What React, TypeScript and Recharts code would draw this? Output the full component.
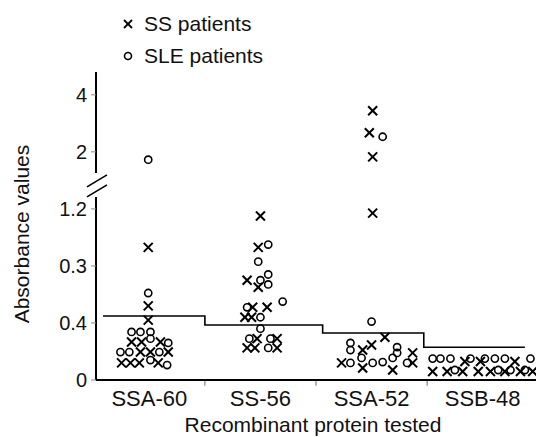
import React from 'react';
import { ComposedChart, Scatter, Line, XAxis, YAxis, ReferenceLine, Label } from 'recharts';

const categories = ['SSA-60', 'SS-56', 'SSA-52', 'SSB-48'];
const yTickLabels = ['0', '0.4', '0.3', '1.2', '2', '4'];
// absorbance value represented by each (evenly spaced) tick; axis broken between 1.2 and 2
const yTickValues = [0, 0.4, 0.8, 1.2, 2, 4];

// [offset within category, absorbance]
const ssSSA60: [number, number][] = [
  [-0.01, 0.93], [-0.01, 0.52], [-0.01, 0.42],
  [-0.16, 0.267], [-0.07, 0.267], [0.1, 0.267],
  [-0.08, 0.196], [0.01, 0.196], [0.17, 0.196],
  [-0.25, 0.12], [-0.17, 0.12], [-0.09, 0.12], [0.08, 0.12],
];
const sleSSA60: [number, number][] = [
  [-0.01, 1.89], [-0.01, 0.61],
  [-0.16, 0.337], [-0.08, 0.337], [0.01, 0.337],
  [0.01, 0.29], [0.17, 0.26],
  [-0.26, 0.196], [-0.18, 0.196], [0.09, 0.196],
  [0.01, 0.14], [0.16, 0.105],
];
const ssSS56: [number, number][] = [
  [0, 1.15], [-0.02, 0.93], [-0.12, 0.7], [-0.02, 0.65],
  [-0.07, 0.51], [0.06, 0.51], [-0.14, 0.44], [-0.08, 0.44],
  [-0.03, 0.29], [0.15, 0.29], [-0.12, 0.225], [-0.05, 0.225], [0.15, 0.225],
];
const sleSS56: [number, number][] = [
  [0.07, 0.95], [-0.02, 0.83], [0, 0.7], [0.07, 0.74], [0.07, 0.67],
  [-0.12, 0.51], [0.2, 0.55], [0, 0.44], [0, 0.36],
  [-0.1, 0.29], [0.09, 0.29], [0.07, 0.225],
];
const ssSSA52: [number, number][] = [
  [0.01, 3.44], [-0.02, 2.67], [0.01, 1.93], [0.01, 1.17],
  [0.12, 0.3], [0, 0.245], [-0.08, 0.21], [0.37, 0.19],
  [-0.27, 0.12], [-0.08, 0.084], [0.19, 0.07], [0.37, 0.12],
];
const sleSSA52: [number, number][] = [
  [0.1, 2.53], [0, 0.41], [-0.19, 0.26], [-0.19, 0.21],
  [0.23, 0.23], [0.23, 0.19], [-0.19, 0.12], [-0.09, 0.155],
  [0.01, 0.12], [0.1, 0.126], [0.19, 0.155], [0.32, 0.12],
];
const ssSSB48: [number, number][] = [
  [-0.45, 0.06], [-0.32, 0.06], [-0.18, 0.06], [-0.04, 0.06],
  [0.07, 0.06], [0.2, 0.06], [0.34, 0.06], [0.45, 0.06],
  [-0.16, 0.13], [-0.02, 0.13], [0.29, 0.13],
];
const sleSSB48: [number, number][] = [
  [-0.45, 0.15], [-0.38, 0.15], [-0.29, 0.15], [-0.11, 0.15],
  [0.02, 0.15], [0.11, 0.15], [0.2, 0.15], [0.43, 0.15],
  [-0.25, 0.07], [0.14, 0.07], [0.25, 0.07], [0.38, 0.07],
];

const ssGroups = [ssSSA60, ssSS56, ssSSA52, ssSSB48];
const sleGroups = [sleSSA60, sleSS56, sleSSA52, sleSSB48];

// mean level per category and step boundaries
const meanLevels = [0.449, 0.386, 0.33, 0.23];
const meanBounds = [0.083, 1.0, 2.06, 2.97, 3.88];

// map absorbance onto the evenly spaced (broken) axis
const toAxis = (v: number) => {
  for (let i = 1; i < yTickValues.length; i++) {
    if (v <= yTickValues[i] || i === yTickValues.length - 1) {
      const a = yTickValues[i - 1];
      const b = yTickValues[i];
      return i - 1 + (v - a) / (b - a);
    }
  }
  return 0;
};

const build = (groups: [number, number][][]) =>
  groups.flatMap((g, i) => g.map(([o, v]) => ({ x: i + 0.5 + o, y: toAxis(v) })));

const ssData = build(ssGroups);
const sleData = build(sleGroups);
const meanData = meanBounds.map((x, i) => ({ x, y: toAxis(meanLevels[Math.min(i, meanLevels.length - 1)]) }));

const FONT = 'Liberation Sans, Arial, Helvetica, sans-serif';

const XMark = (props: any) => {
  const { cx, cy } = props;
  const s = 4.5;
  return (
    <g>
      <line x1={cx - s} y1={cy - s} x2={cx + s} y2={cy + s} stroke="#000" strokeWidth={2} />
      <line x1={cx - s} y1={cy + s} x2={cx + s} y2={cy - s} stroke="#000" strokeWidth={2} />
    </g>
  );
};
const OMark = (props: any) => {
  const { cx, cy } = props;
  return <circle cx={cx} cy={cy} r={3.6} fill="none" stroke="#000" strokeWidth={1.6} />;
};

export default function App() {
  return (
    <div style={{ position: 'absolute', left: 0, top: 0, width: 536, height: 437, background: '#fff', fontFamily: FONT }}>
      <ComposedChart width={536} height={437} margin={{ top: 72, right: 0, bottom: 0, left: 0 }}>
        <XAxis
          dataKey="x"
          type="number"
          domain={[0.02, 3.98]}
          allowDataOverflow
          ticks={[0.5, 1.5, 2.5, 3.5]}
          tickFormatter={(v: number) => categories[Math.floor(v)]}
          tickLine={false}
          tickSize={6}
          tickMargin={4}
          height={57}
          axisLine={{ stroke: '#000', strokeWidth: 2 }}
          tick={{ fill: '#111', fontSize: 22, fontFamily: FONT }}
        >
          <Label value="Recombinant protein tested" position="insideBottom" offset={5} dx={-3} fill="#111" fontSize={21} fontFamily={FONT} />
        </XAxis>
        <YAxis
          type="number"
          domain={[0, 5.4]}
          allowDataOverflow
          ticks={[0, 1, 2, 3, 4, 5]}
          tickFormatter={(v: number) => yTickLabels[v]}
          axisLine={false}
          tickLine={{ stroke: '#888' }}
          tickSize={5}
          tickMargin={4}
          width={96}
          tick={{ fill: '#111', fontSize: 20, fontFamily: FONT }}
        />
        <ReferenceLine segment={[{ x: 0.02, y: 0 }, { x: 0.02, y: 3.21 }]} stroke="#000" strokeWidth={2} ifOverflow="visible" />
        <ReferenceLine segment={[{ x: 0.02, y: 3.63 }, { x: 0.02, y: 5.4 }]} stroke="#000" strokeWidth={2} ifOverflow="visible" />
        <ReferenceLine segment={[{ x: -0.061, y: 3.386 }, { x: 0.119, y: 3.596 }]} stroke="#000" strokeWidth={1.6} ifOverflow="visible" />
        <ReferenceLine segment={[{ x: -0.061, y: 3.21 }, { x: 0.119, y: 3.42 }]} stroke="#000" strokeWidth={1.6} ifOverflow="visible" />
        {[1, 2, 3].map((t) => (
          <ReferenceLine key={t} segment={[{ x: t, y: 0 }, { x: t, y: -0.1 }]} stroke="#666" strokeWidth={1} ifOverflow="visible" />
        ))}
        <Line data={meanData} dataKey="y" type="stepAfter" stroke="#000" strokeWidth={1.6} dot={false} activeDot={false} isAnimationActive={false} />
        <Scatter data={ssData} dataKey="y" shape={XMark} isAnimationActive={false} />
        <Scatter data={sleData} dataKey="y" shape={OMark} isAnimationActive={false} />
      </ComposedChart>
      <svg width={536} height={437} style={{ position: 'absolute', left: 0, top: 0, pointerEvents: 'none' }}>
        <g>
          <line x1={124} y1={20} x2={132} y2={28} stroke="#000" strokeWidth={1.8} />
          <line x1={124} y1={28} x2={132} y2={20} stroke="#000" strokeWidth={1.8} />
          <text x={144} y={31} fontSize={21} fontFamily={FONT} fill="#111">SS patients</text>
          <circle cx={128} cy={56} r={3.5} fill="none" stroke="#000" strokeWidth={1.6} />
          <text x={144} y={63} fontSize={21} fontFamily={FONT} fill="#111">SLE patients</text>
        </g>
        <text x={21} y={234} dy="0.36em" transform="rotate(-90 21 234)" textAnchor="middle" fontSize={21} fontFamily={FONT} fill="#111">
          Absorbance values
        </text>
      </svg>
    </div>
  );
}
